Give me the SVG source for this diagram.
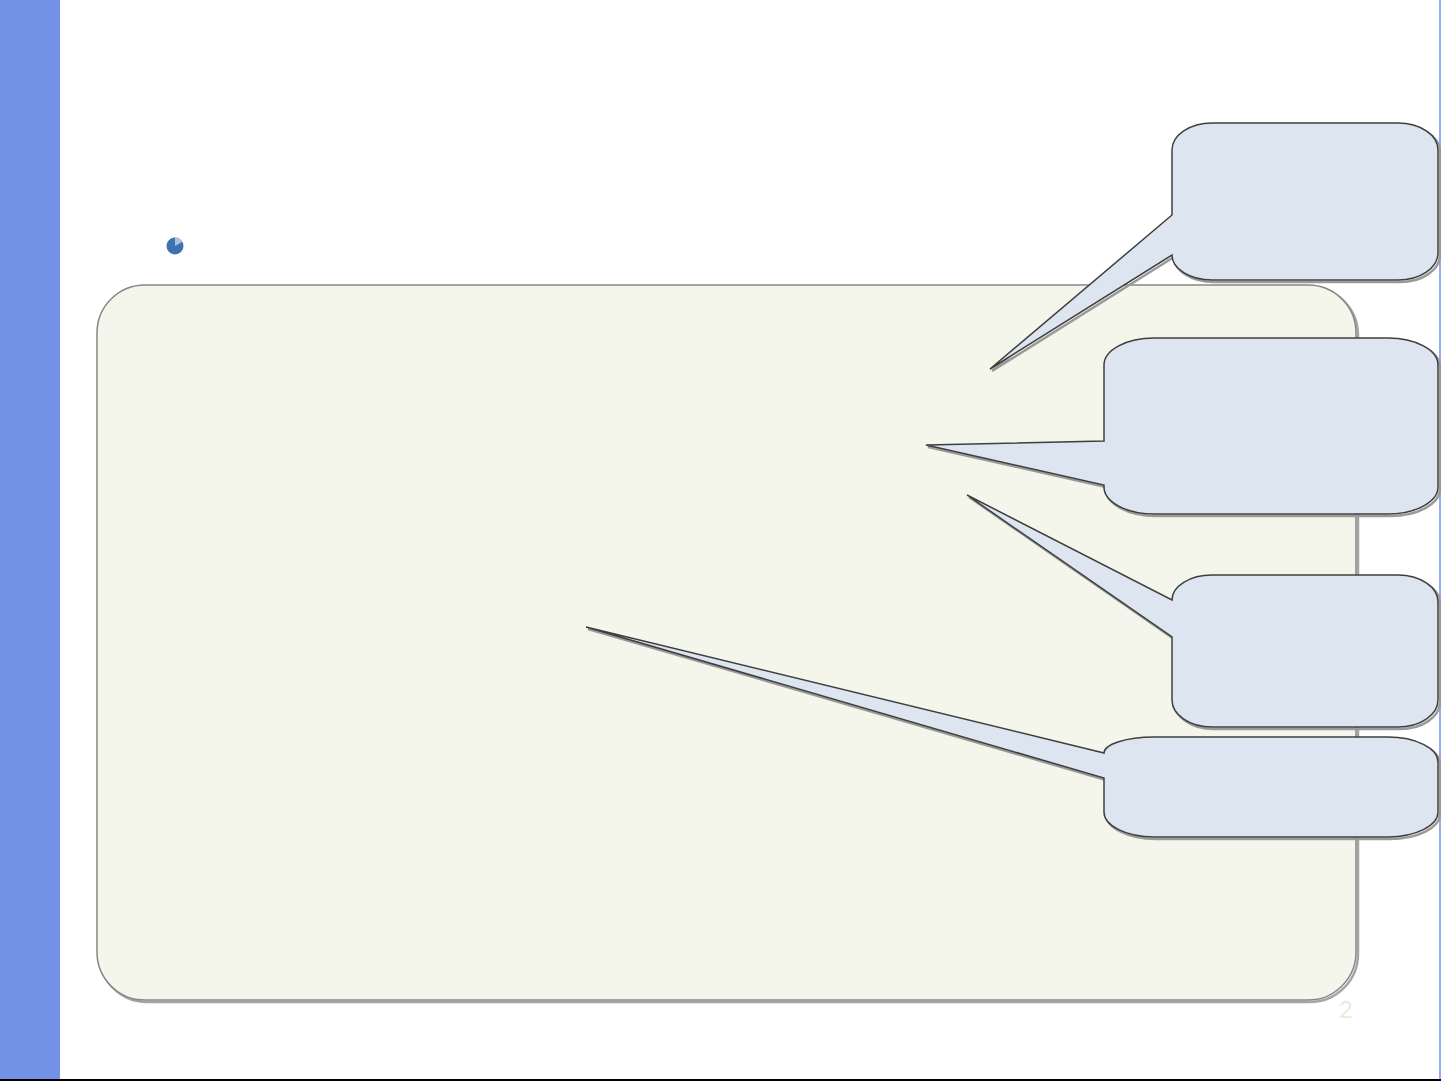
<svg xmlns="http://www.w3.org/2000/svg" width="1441" height="1081" viewBox="0 0 1441 1081">
<defs>
<style>
.callout{fill:#DDE5F0;stroke:#3F3F3F;stroke-width:1.5;stroke-linejoin:miter}
.shadow{fill:none;stroke:#9A9A9A;stroke-width:2.5;stroke-linejoin:miter}
.panel{fill:#F4F6EB;stroke:#878787;stroke-width:1.5}
</style>
</defs>
<rect x="0" y="0" width="1441" height="1081" fill="#FFFFFF"/>
<rect x="0" y="0" width="60" height="1079" fill="#7391E6"/>
<line x1="1440" y1="0" x2="1440" y2="1079" stroke="#7391E6" stroke-width="1.5"/>
<line x1="0" y1="1080" x2="1441" y2="1080" stroke="#000000" stroke-width="2"/>

<g id="bullet">
<circle cx="175" cy="246" r="8.5" fill="#3E72AE"/>
<path d="M175,246 L175,237.5 A8.5 8.5 0 0 1 182.4,241.8 Z" fill="#A8C2E0"/>
</g>

<g id="panel">
<rect x="99" y="287" width="1259" height="715" rx="48" ry="48" fill="none" stroke="#A5A5A5" stroke-width="2.5"/>
<rect x="97" y="285" width="1259" height="715" rx="48" ry="48" class="panel"/>
</g>

<g id="connectors"></g>

<g id="callout1">
<path transform="translate(2,2)" class="shadow" d="M1212,123 H1398 A40 27 0 0 1 1438,150 V253 A40 27 0 0 1 1398,280 H1212 A40 25 0 0 1 1172,255 L990,369 L1172,215 V150 A40 27 0 0 1 1212,123 Z"/>
<path class="callout" d="M1212,123 H1398 A40 27 0 0 1 1438,150 V253 A40 27 0 0 1 1398,280 H1212 A40 25 0 0 1 1172,255 L990,369 L1172,215 V150 A40 27 0 0 1 1212,123 Z"/>
</g>

<g id="callout2">
<path transform="translate(2,2)" class="shadow" d="M1154,338 H1388 A50 27 0 0 1 1438,365 V487 A50 27 0 0 1 1388,514 H1154 A50 27 0 0 1 1104,487 V485 L926,445 L1104,441 V365 A50 27 0 0 1 1154,338 Z"/>
<path class="callout" d="M1154,338 H1388 A50 27 0 0 1 1438,365 V487 A50 27 0 0 1 1388,514 H1154 A50 27 0 0 1 1104,487 V485 L926,445 L1104,441 V365 A50 27 0 0 1 1154,338 Z"/>
</g>

<g id="callout3">
<path transform="translate(2,2)" class="shadow" d="M1212,575 H1398 A40 27 0 0 1 1438,602 V700 A40 27 0 0 1 1398,727 H1212 A40 27 0 0 1 1172,700 V637 L967,495 L1172,600 A40 25 0 0 1 1212,575 Z"/>
<path class="callout" d="M1212,575 H1398 A40 27 0 0 1 1438,602 V700 A40 27 0 0 1 1398,727 H1212 A40 27 0 0 1 1172,700 V637 L967,495 L1172,600 A40 25 0 0 1 1212,575 Z"/>
</g>

<g id="callout4">
<path transform="translate(2,2)" class="shadow" d="M1154,737 H1388 A50 25 0 0 1 1438,762 V812 A50 25 0 0 1 1388,837 H1154 A50 25 0 0 1 1104,812 V778 L586,627 L1104,753 A50 16 0 0 1 1154,737 Z"/>
<path class="callout" d="M1154,737 H1388 A50 25 0 0 1 1438,762 V812 A50 25 0 0 1 1388,837 H1154 A50 25 0 0 1 1104,812 V778 L586,627 L1104,753 A50 16 0 0 1 1154,737 Z"/>
</g>

<text x="1346" y="1018" font-family="Liberation Sans, Arial, sans-serif" font-size="24" fill="#F5E6DA" text-anchor="middle">2</text>
</svg>
